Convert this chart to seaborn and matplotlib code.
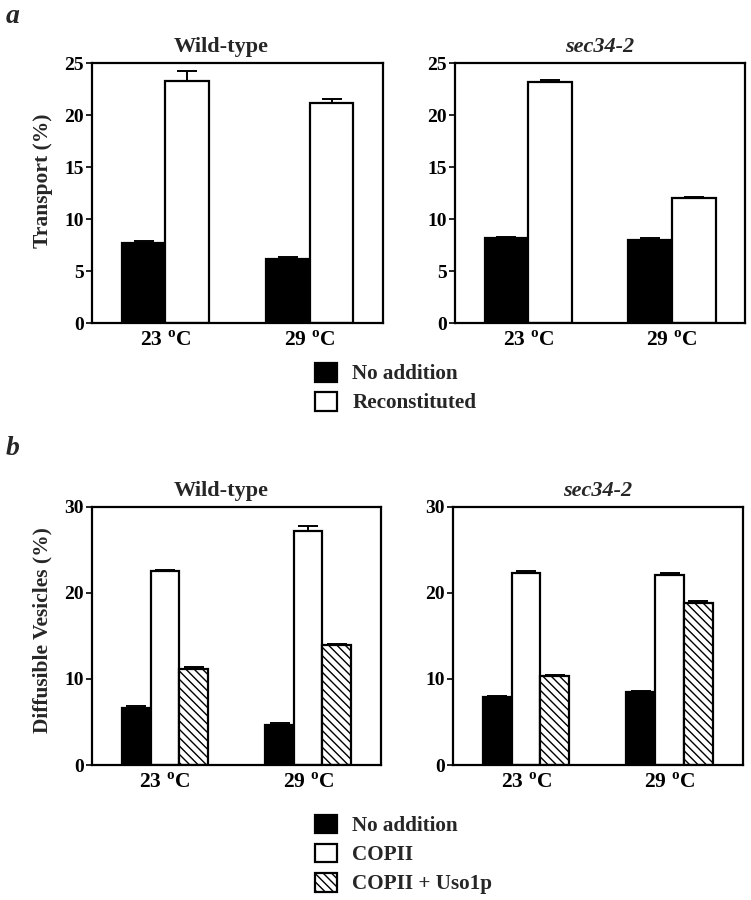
import matplotlib
matplotlib.use("Agg")
import matplotlib.pyplot as plt
from matplotlib.container import BarContainer
import seaborn as sns
import pandas as pd

temps = ["23 $^{\\mathbf{o}}$C", "29 $^{\\mathbf{o}}$C"]

# panel a: transport (%)
a_labels = ["No addition", "Reconstituted"]
wt_a_none = [7.7, 6.2]
wt_a_none_err = [0.2, 0.2]
wt_a_recon = [23.3, 21.2]
wt_a_recon_err = [0.9, 0.3]
sec_a_none = [8.2, 8.0]
sec_a_none_err = [0.1, 0.2]
sec_a_recon = [23.2, 12.0]
sec_a_recon_err = [0.2, 0.15]

# panel b: diffusible vesicles (%)
b_labels = ["No addition", "COPII", "COPII + Uso1p"]
wt_b_none = [6.6, 4.6]
wt_b_none_err = [0.3, 0.3]
wt_b_copii = [22.6, 27.2]
wt_b_copii_err = [0.1, 0.6]
wt_b_uso = [11.2, 13.9]
wt_b_uso_err = [0.15, 0.15]
sec_b_none = [7.9, 8.5]
sec_b_none_err = [0.15, 0.15]
sec_b_copii = [22.3, 22.1]
sec_b_copii_err = [0.3, 0.25]
sec_b_uso = [10.3, 18.8]
sec_b_uso_err = [0.15, 0.25]

sns.set_theme(style="ticks")
plt.rcParams["font.family"] = ["Liberation Serif", "DejaVu Serif"]
plt.rcParams["font.weight"] = "bold"
plt.rcParams["mathtext.fontset"] = "custom"
plt.rcParams["mathtext.rm"] = "Liberation Serif:bold"
plt.rcParams["mathtext.bf"] = "Liberation Serif:bold"
plt.rcParams["hatch.linewidth"] = 1.0
plt.rcParams["hatch.color"] = "black"


def make_df(labels, series, errs):
    rows = []
    for lab, vals, ers in zip(labels, series, errs):
        for t, v, e in zip(temps, vals, ers):
            rows.append({"temp": t, "treatment": lab, "value": v, "err": e})
    return pd.DataFrame(rows)


def bar_containers(ax):
    return [c for c in ax.containers if isinstance(c, BarContainer)]


def draw_panel(ax, df, labels, width, ymax, yticks, title, title_x=0.5, italic=False):
    colors = ["black", "white", "white"][: len(labels)]
    sns.barplot(
        data=df, x="temp", y="value", hue="treatment", order=temps,
        hue_order=labels, palette=dict(zip(labels, colors)),
        edgecolor="black", linewidth=1.6, width=width, gap=0,
        errorbar=None, legend=False, ax=ax, saturation=1,
    )
    bars = bar_containers(ax)
    for i, (lab, cont) in enumerate(zip(labels, bars)):
        sub = df[df["treatment"] == lab].set_index("temp").loc[temps]
        xs = [b.get_x() + b.get_width() / 2 for b in cont.patches]
        ys = [b.get_height() for b in cont.patches]
        ax.errorbar(xs, ys, yerr=[[0] * len(xs), list(sub["err"])],
                    fmt="none", ecolor="black", elinewidth=1.4,
                    capsize=7, capthick=1.4, zorder=5)
        if i == 2:
            for b in cont.patches:
                b.set_hatch("\\\\\\\\")
    ax.set_ylim(0, ymax)
    ax.set_yticks(yticks)
    ax.set_xlim(-0.51, 1.51)
    ax.set_xlabel("")
    ax.set_ylabel("")
    for s in ax.spines.values():
        s.set_visible(True)
        s.set_linewidth(1.6)
        s.set_color("black")
    ax.tick_params(axis="y", length=4, width=1.2, labelsize=14, pad=2, colors="black")
    ax.tick_params(axis="x", length=0, labelsize=15.5, pad=6, colors="black")
    ax.set_title(title, fontsize=16, fontweight="bold", x=title_x,
                 fontstyle="italic" if italic else "normal", pad=8)


fig = plt.figure(figsize=(7.51, 9.0), dpi=100)

ax_a1 = fig.add_axes([0.1225, 0.641, 0.3875, 0.289])
ax_a2 = fig.add_axes([0.606, 0.641, 0.386, 0.289])
ax_b1 = fig.add_axes([0.1225, 0.150, 0.385, 0.2867])
ax_b2 = fig.add_axes([0.603, 0.150, 0.386, 0.2867])

draw_panel(ax_a1, make_df(a_labels, [wt_a_none, wt_a_recon], [wt_a_none_err, wt_a_recon_err]),
           a_labels, 0.61, 25, [0, 5, 10, 15, 20, 25], "Wild-type", title_x=0.443)
draw_panel(ax_a2, make_df(a_labels, [sec_a_none, sec_a_recon], [sec_a_none_err, sec_a_recon_err]),
           a_labels, 0.61, 25, [0, 5, 10, 15, 20, 25], "sec34-2", italic=True)
draw_panel(ax_b1, make_df(b_labels, [wt_b_none, wt_b_copii, wt_b_uso],
                          [wt_b_none_err, wt_b_copii_err, wt_b_uso_err]),
           b_labels, 0.6, 30, [0, 10, 20, 30], "Wild-type", title_x=0.446)
draw_panel(ax_b2, make_df(b_labels, [sec_b_none, sec_b_copii, sec_b_uso],
                          [sec_b_none_err, sec_b_copii_err, sec_b_uso_err]),
           b_labels, 0.6, 30, [0, 10, 20, 30], "sec34-2", italic=True)

ax_a1.set_ylabel("Transport (%)", fontsize=15.5, fontweight="bold")
ax_a1.yaxis.set_label_coords(-0.134, 0.546)
ax_b1.set_ylabel("Diffusible Vesicles (%)", fontsize=15.5, fontweight="bold")
ax_b1.yaxis.set_label_coords(-0.135, 0.523)

fig.text(0.008, 0.982, "a", fontsize=20, fontweight="bold", fontstyle="italic", va="center")
fig.text(0.008, 0.502, "b", fontsize=20, fontweight="bold", fontstyle="italic", va="center")

leg_kw = dict(loc="upper left", frameon=False, handlelength=1.0, handleheight=1.0,
              handletextpad=0.75, labelspacing=0.35, borderaxespad=0, borderpad=0,
              prop={"family": "Liberation Serif", "weight": "bold", "size": 15.2})
fig.legend([c.patches[0] for c in bar_containers(ax_a1)], a_labels,
           bbox_to_anchor=(0.420, 0.597), **leg_kw)
fig.legend([c.patches[0] for c in bar_containers(ax_b1)], b_labels,
           bbox_to_anchor=(0.420, 0.095), **leg_kw)

fig.savefig("out.png", dpi=100)
